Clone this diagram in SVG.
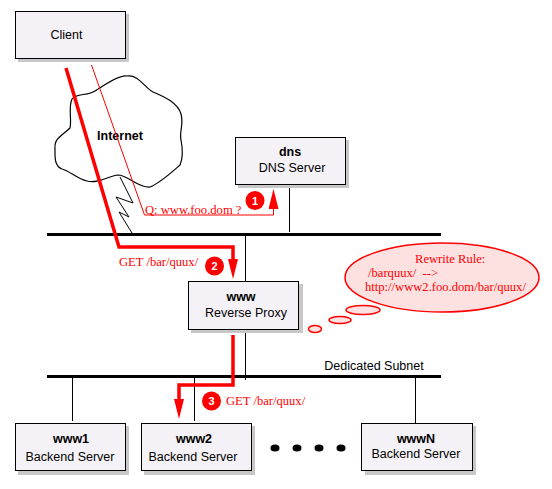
<svg xmlns="http://www.w3.org/2000/svg" width="552" height="489" viewBox="0 0 552 489">
<style>
text{font-family:"Liberation Sans",Arial,sans-serif;font-size:12.5px;fill:#000;text-anchor:middle}
.b{font-weight:bold}
.r{font-family:"Liberation Serif","Times New Roman",serif;font-size:12.6px;fill:#f00;text-anchor:start;white-space:pre}
.box{fill:#f5f2f7;stroke:#000;stroke-width:1}
.sh{fill:#c8c8c8}
.bus{stroke:#000;stroke-width:3;fill:none}
.ln{stroke:#000;stroke-width:1;fill:none}
.red{stroke:#f00;stroke-width:3.5;fill:none}
.thin{stroke:#f00;stroke-width:1;fill:none}
.bub{fill:#fde0e0;stroke:#f00;stroke-width:1.5}
.num{fill:#f00}
.nt{font-family:"Liberation Sans",Arial,sans-serif;font-size:11px;font-weight:bold;fill:#fff}
</style>
<defs>
<marker id="ah" markerUnits="userSpaceOnUse" markerWidth="20" markerHeight="10" refX="6" refY="5" orient="auto" viewBox="0 0 20 10"><path d="M0 0L20 5L0 10Z" fill="#f00"/></marker>
</defs>
<g id="cloud">
<path d="M95 91C104 85 120 74 127 76C138 74 145 88 153 92C165 97 178 103 181 114C184 125 179 132 181 140C183 150 183 158 180 165C172 172 160 183 150 187C138 188 128 175 118 175C108 176 98 184 87 181C77 179 70 171 62 169C54 166 55 156 55 148C54 138 64 134 70 128C72 118 68 108 72 99C76 93 88 96 95 91Z" fill="#fff" stroke="#000" stroke-width="1.2"/>
<text class="b" x="120" y="140">Internet</text>
</g>
<g id="connectors">
<path class="bus" d="M47 234.500H441"/>
<path class="bus" d="M47 376.500H441"/>
<path class="ln" d="M289.500 185V232"/>
<path class="ln" d="M245.500 236V281"/>
<path class="ln" d="M245.500 333V380"/>
<path class="ln" d="M72.500 378V421"/>
<path class="ln" d="M194.500 378V421"/>
<path class="ln" d="M415.500 378V423"/>
<path class="ln" d="M120 177L133 203L116 197L129 217L119 212L132 233" stroke-width="1.2"/>
<path class="thin" d="M91.500 65L144.500 215H273.500V203" marker-end="url(#ah)"/>
<path class="red" d="M66 68L119 247H233V265" marker-end="url(#ah)"/>
<path class="red" d="M233 335V385H179V405" marker-end="url(#ah)"/>
</g>
<g id="labels">
<text class="r" x="145" y="214">Q: www.foo.dom ?</text>
<text class="r" x="119" y="266">GET /bar/quux/</text>
<text class="r" x="226" y="405">GET /bar/quux/</text>
</g>
<g id="step1"><circle class="num" cx="255" cy="200.500" r="9.500"/><text class="nt" x="255" y="204.500">1</text></g>
<g id="step2"><circle class="num" cx="214.500" cy="266" r="9.500"/><text class="nt" x="214.500" y="270">2</text></g>
<g id="step3"><circle class="num" cx="211.500" cy="401" r="9.500"/><text class="nt" x="211.500" y="405">3</text></g>
<g id="client">
<rect class="sh" x="18" y="14" width="111" height="48"/>
<rect class="box" x="15.500" y="11.500" width="110" height="47"/>
<text x="66.500" y="39">Client</text>
</g>
<g id="dns">
<rect class="sh" x="238" y="140" width="111" height="48"/>
<rect class="box" x="235.500" y="137.500" width="110" height="47"/>
<text class="b" x="290" y="156">dns</text>
<text x="292" y="172">DNS Server</text>
</g>
<g id="www">
<rect class="sh" x="191" y="284" width="112" height="49"/>
<rect class="box" x="188.500" y="281.500" width="110" height="48"/>
<text class="b" x="241" y="301">www</text>
<text x="246" y="317">Reverse Proxy</text>
</g>
<g id="www1">
<rect class="sh" x="18" y="426" width="111" height="49"/>
<rect class="box" x="15.500" y="423.500" width="110" height="47"/>
<text class="b" x="71" y="443">www1</text>
<text x="70" y="461">Backend Server</text>
</g>
<g id="www2">
<rect class="sh" x="144" y="426" width="111" height="49"/>
<rect class="box" x="141.500" y="423.500" width="110" height="47"/>
<text class="b" x="194" y="443">www2</text>
<text x="193" y="461">Backend Server</text>
</g>
<g id="wwwN">
<rect class="sh" x="365" y="426" width="111" height="49"/>
<rect class="box" x="361.500" y="423.500" width="111" height="47"/>
<text class="b" x="416" y="443">wwwN</text>
<text x="416" y="458">Backend Server</text>
</g>
<g id="dots">
<ellipse cx="275" cy="448" rx="4.500" ry="3.500"/>
<ellipse cx="297" cy="448" rx="4.500" ry="3.500"/>
<ellipse cx="319" cy="448" rx="4.500" ry="3.500"/>
<ellipse cx="341" cy="448" rx="4.500" ry="3.500"/>
</g>
<g id="rewrite-rule">
<ellipse class="bub" cx="442" cy="277.500" rx="97" ry="34.500"/>
<ellipse class="bub" cx="363" cy="310" rx="17" ry="4.500"/>
<ellipse class="bub" cx="340" cy="320" rx="11" ry="3.500"/>
<ellipse class="bub" cx="315" cy="329" rx="6.500" ry="3.500"/>
<text class="r" x="415" y="263">Rewrite Rule:</text>
<text class="r" x="368" y="277">/barquux/  --&gt;</text>
<text class="r" x="365" y="291">http://www2.foo.dom/bar/quux/</text>
</g>
<g id="subnet-label"><text x="374" y="370">Dedicated Subnet</text></g>
</svg>
